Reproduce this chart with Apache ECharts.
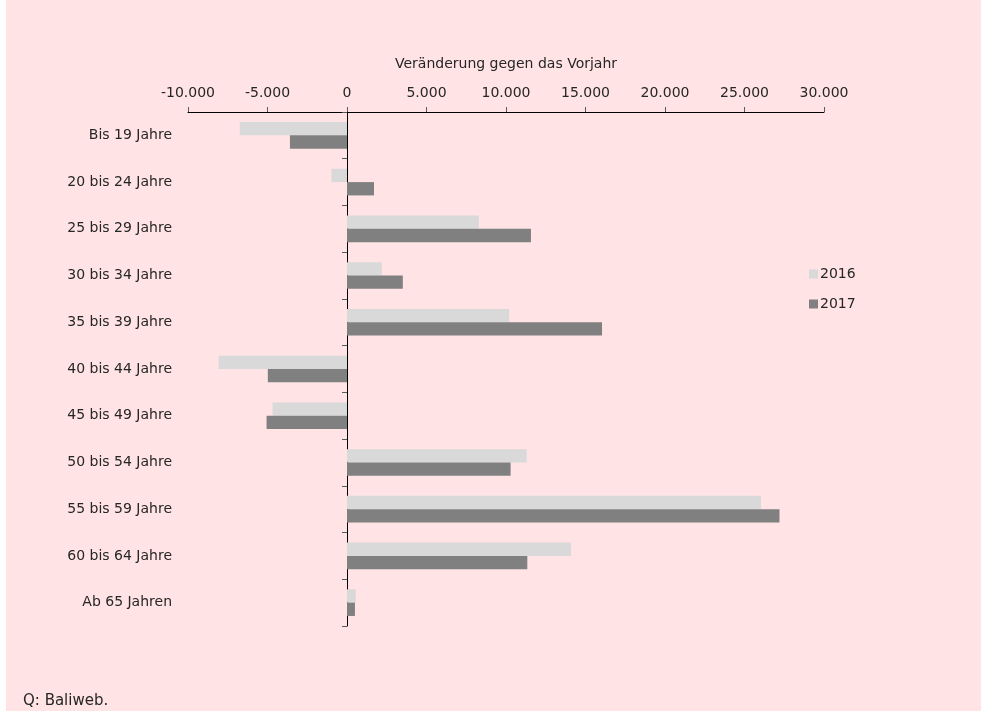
<!DOCTYPE html>
<html>
<head>
<meta charset="utf-8">
<script src="https://cdn.jsdelivr.net/npm/echarts@6/dist/echarts.min.js"></script>
<style>
  html, body { margin: 0; padding: 0; background: #ffffff; }
  #chart { position: absolute; left: 6px; top: 0; width: 975px; height: 711px; }
</style>
</head>
<body>
<div id="chart"></div>
<script>
"use strict";

// Altersgruppen (von oben nach unten)
var categories = ['Bis 19 Jahre', '20 bis 24 Jahre', '25 bis 29 Jahre', '30 bis 34 Jahre',
	'35 bis 39 Jahre', '40 bis 44 Jahre', '45 bis 49 Jahre', '50 bis 54 Jahre',
	'55 bis 59 Jahre', '60 bis 64 Jahre', 'Ab 65 Jahren'];

// Veränderung gegen das Vorjahr
var values2016 = [-6740, -980, 8290, 2190, 10200, -8080, -4680, 11300, 26030, 14090, 550];
var values2017 = [-3590, 1700, 11570, 3510, 16040, -4980, -5060, 10290, 27200, 11340, 500];

var xTicks = [-10000, 30000, 5000]; // min, max, interval

var textColor = '#262626';
var fontName = 'DejaVu Sans';

function fmt(v) {
	var s = String(Math.abs(v)).replace(/\B(?=(\d{3})+(?!\d))/g, '.');
	return (v < 0 ? '-' : '') + s;
}

var myChart = echarts.init(document.getElementById('chart'));

var option = {
	backgroundColor: '#FFE3E5',
	animation: false,
	textStyle: { fontFamily: fontName, color: textColor },
	grid: { left: 182, top: 112, width: 636, height: 514 },
	legend: {
		orient: 'vertical',
		left: 798,
		top: 262,
		itemWidth: 9,
		itemHeight: 9,
		itemGap: 16,
		icon: 'rect',
		textStyle: { fontFamily: fontName, fontSize: 14, color: textColor, padding: [0, 0, 0, -3] },
		data: ['2016', '2017']
	},
	xAxis: {
		type: 'value',
		position: 'top',
		min: xTicks[0],
		max: xTicks[1],
		interval: xTicks[2],
		name: 'Veränderung gegen das Vorjahr',
		nameLocation: 'middle',
		nameGap: 41,
		nameTextStyle: { fontFamily: fontName, fontSize: 14, color: textColor },
		axisLine: { show: true, lineStyle: { color: '#000000', width: 1 } },
		axisTick: { show: true, length: 5, lineStyle: { color: '#595959' } },
		axisLabel: { fontFamily: fontName, fontSize: 14, color: textColor, margin: 12, formatter: fmt },
		splitLine: { show: false }
	},
	yAxis: [{
		type: 'category',
		inverse: true,
		data: categories,
		axisLine: { show: true, onZero: true, lineStyle: { color: '#000000', width: 1 } },
		axisTick: { show: true, length: 5, lineStyle: { color: '#595959' } },
		axisLabel: { show: false },
		splitLine: { show: false }
	}, {
		type: 'category',
		inverse: true,
		position: 'left',
		data: categories,
		axisLine: { show: false, onZero: false },
		axisTick: { show: false },
		axisLabel: { fontFamily: fontName, fontSize: 14, color: textColor, margin: 16 },
		splitLine: { show: false }
	}],
	series: [{
		name: '2016',
		type: 'bar',
		yAxisIndex: 0,
		data: values2016,
		barGap: '0%',
		barCategoryGap: '43%',
		itemStyle: { color: '#D9D9D9' }
	}, {
		name: '2017',
		type: 'bar',
		yAxisIndex: 0,
		data: values2017,
		barGap: '0%',
		barCategoryGap: '43%',
		itemStyle: { color: '#808080' }
	}],
	graphic: [{
		type: 'text',
		left: 17,
		top: 694,
		style: { text: 'Q: Baliweb.', font: '15px "DejaVu Sans"', fill: textColor }
	}]
};

myChart.setOption(option);
</script>
</body>
</html>
